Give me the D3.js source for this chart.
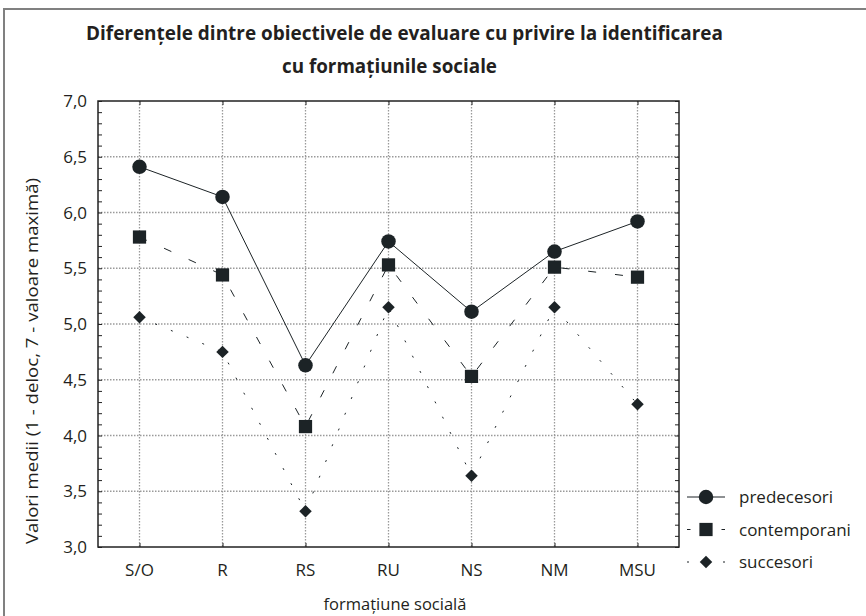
<!DOCTYPE html>
<html>
<head>
<meta charset="utf-8">
<script src="https://cdn.jsdelivr.net/npm/d3@7"></script>
<style>
  body { margin: 0; background: #fff; }
  text { font-family: "Open Sans", sans-serif; fill: #231f20; }
</style>
</head>
<body>
<div id="chart"></div>
<script>
// date
var categorii = ["S/O", "R", "RS", "RU", "NS", "NM", "MSU"];
var predecesori   = [6.41, 6.14, 4.63, 5.74, 5.11, 5.65, 5.92];
var contemporani  = [5.78, 5.44, 4.08, 5.53, 4.53, 5.51, 5.42];
var succesori     = [5.06, 4.75, 3.32, 5.15, 3.64, 5.15, 4.28];
var numeSerii = ["predecesori", "contemporani", "succesori"];
var yTickuri = [3, 3.5, 4, 4.5, 5, 5.5, 6, 6.5, 7];

var W = 866, H = 616;
var pLeft = 98, pRight = 679, pTop = 101, pBottom = 547;
var ink = "#1c2326";

var svg = d3.select("#chart").append("svg")
    .attr("width", W).attr("height", H);

// chenar exterior
svg.append("rect")
    .attr("x", 4).attr("y", 9)
    .attr("width", W + 10).attr("height", H + 10)
    .attr("fill", "none").attr("stroke", "#808080").attr("stroke-width", 2);

var x = d3.scalePoint().domain(categorii).range([pLeft, pRight]).padding(0.5);
var y = d3.scaleLinear().domain([3, 7]).range([pBottom, pTop]);
var ro = d3.formatLocale({decimal: ",", thousands: ".", grouping: [3], currency: ["", " lei"]});
var fmt = ro.format(".1f");

// grila punctata
var grid = svg.append("g");
grid.selectAll(".gy").data(yTickuri.filter(v => v > 3 && v < 7)).enter().append("line")
    .attr("x1", pLeft).attr("x2", pRight)
    .attr("y1", d => y(d)).attr("y2", d => y(d))
    .attr("stroke", "#9a9a9a").attr("stroke-width", 1.3).attr("stroke-dasharray", "1.5,1.5");
grid.selectAll(".gx").data(categorii).enter().append("line")
    .attr("x1", d => x(d)).attr("x2", d => x(d))
    .attr("y1", pTop).attr("y2", pBottom)
    .attr("stroke", "#9a9a9a").attr("stroke-width", 1.3).attr("stroke-dasharray", "1.5,1.5");

// axe cu tickuri spre interior
var minor = d3.range(30, 71).map(v => v / 10);
svg.append("g").attr("transform", "translate(" + pLeft + ",0)")
    .call(d3.axisLeft(y).tickValues(minor).tickSize(-4).tickFormat(""))
    .call(g => g.select(".domain").remove());
svg.append("g").attr("transform", "translate(" + pRight + ",0)")
    .call(d3.axisRight(y).tickValues(minor).tickSize(-4).tickFormat(""))
    .call(g => g.select(".domain").remove());
svg.append("g").attr("transform", "translate(0," + pBottom + ")")
    .call(d3.axisBottom(x).tickSize(-4).tickFormat(""))
    .call(g => g.select(".domain").remove());
svg.append("g").attr("transform", "translate(0," + pTop + ")")
    .call(d3.axisTop(x).tickSize(-4).tickFormat(""))
    .call(g => g.select(".domain").remove());
svg.selectAll(".tick line").attr("stroke", "#222").attr("stroke-width", 1);

svg.append("rect")
    .attr("x", pLeft).attr("y", pTop)
    .attr("width", pRight - pLeft).attr("height", pBottom - pTop)
    .attr("fill", "none").attr("stroke", "#222").attr("stroke-width", 1.5);

// etichete axe
svg.selectAll(".ylab").data(yTickuri).enter().append("text")
    .attr("x", 87).attr("y", d => y(d) + 6)
    .attr("text-anchor", "end").attr("font-size", "17px")
    .text(d => fmt(d));
svg.selectAll(".xlab").data(categorii).enter().append("text")
    .attr("x", d => x(d)).attr("y", 576)
    .attr("text-anchor", "middle").attr("font-size", "17px")
    .text(d => d);

svg.append("text")
    .attr("x", 395).attr("y", 610)
    .attr("text-anchor", "middle").attr("font-size", "16.5px")
    .text("formațiune socială");
svg.append("text")
    .attr("transform", "translate(38,361) rotate(-90)")
    .attr("text-anchor", "middle").attr("font-size", "16.5px")
    .attr("textLength", 366).attr("lengthAdjust", "spacingAndGlyphs")
    .text("Valori medii (1 - deloc, 7 - valoare maximă)");

// titlu
svg.append("text")
    .attr("x", 86).attr("y", 40)
    .attr("font-size", "19px").attr("font-weight", "bold")
    .attr("textLength", 637).attr("lengthAdjust", "spacingAndGlyphs")
    .text("Diferențele dintre obiectivele de evaluare cu privire la identificarea");
svg.append("text")
    .attr("x", 282).attr("y", 73)
    .attr("font-size", "19px").attr("font-weight", "bold")
    .attr("textLength", 215).attr("lengthAdjust", "spacingAndGlyphs")
    .text("cu formațiunile sociale");

// serii
var serii = [
    {nume: numeSerii[0], val: predecesori, dash: null, simbol: d3.symbolCircle, size: 165, rot: 0},
    {nume: numeSerii[1], val: contemporani, dash: "8,19", simbol: d3.symbolSquare, size: 175, rot: 0},
    {nume: numeSerii[2], val: succesori, dash: "2,15", simbol: d3.symbolSquare, size: 78, rot: 45}
];
var line = d3.line().x((d, i) => x(categorii[i])).y(d => y(d));

serii.forEach(s => {
    svg.append("path")
        .attr("d", line(s.val))
        .attr("fill", "none").attr("stroke", ink).attr("stroke-width", 1)
        .attr("stroke-dasharray", s.dash);
    svg.selectAll(null).data(s.val).enter().append("path")
        .attr("transform", (d, i) => "translate(" + x(categorii[i]) + "," + y(d) + ") rotate(" + s.rot + ")")
        .attr("d", d3.symbol().type(s.simbol).size(s.size))
        .attr("fill", ink);
});

// legenda
var leg = svg.append("g");
serii.forEach((s, i) => {
    var ly = 497 + i * 32.5;
    var row = leg.append("g").attr("transform", "translate(706," + ly + ")");
    if (i == 0) {
        row.append("line").attr("x1", -19).attr("x2", 19).attr("stroke", ink).attr("stroke-width", 1);
    } else {
        var dl = i == 1 ? 3.5 : 2;
        [[-19, -19 + dl], [19 - dl, 19]].forEach(p => {
            row.append("line").attr("x1", p[0]).attr("x2", p[1]).attr("stroke", ink).attr("stroke-width", 1);
        });
    }
    row.append("path")
        .attr("transform", "rotate(" + s.rot + ")")
        .attr("d", d3.symbol().type(s.simbol).size(s.size))
        .attr("fill", ink);
    row.append("text")
        .attr("x", 33).attr("y", 6)
        .attr("font-size", "17px")
        .text(s.nume);
});
</script>
</body>
</html>
